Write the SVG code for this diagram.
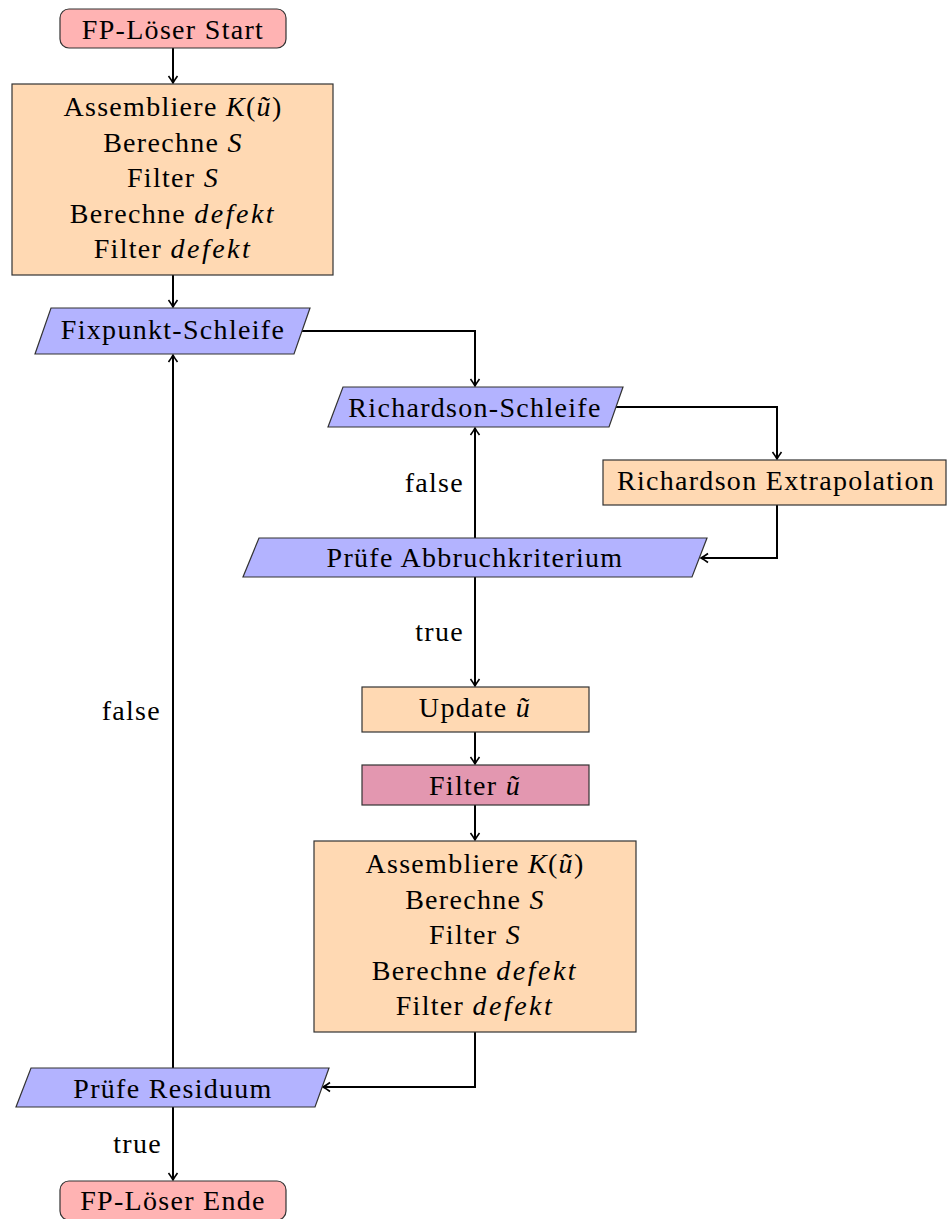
<svg xmlns="http://www.w3.org/2000/svg" width="948" height="1219" viewBox="0 0 948 1219">
<style>
text{font-family:"Liberation Serif","Times New Roman",serif;font-size:28px;fill:#000;text-anchor:middle;letter-spacing:1.3px}
.m{font-style:italic}
.sp{letter-spacing:2.5px}
.lbl{text-anchor:end}
.term{fill:#FFB3B3;stroke:#333;stroke-width:1.2}
.proc{fill:#FFD9B3;stroke:#333;stroke-width:1.2}
.io{fill:#B3B3FF;stroke:#333;stroke-width:1.2}
.filt{fill:#E397B0;stroke:#333;stroke-width:1.2}
.c{fill:none;stroke:#000;stroke-width:2}
</style>
<defs>
<marker id="ah" markerWidth="12" markerHeight="12" refX="10" refY="6" orient="auto" markerUnits="userSpaceOnUse">
<path d="M3,1.5 Q7,4.5 10,6 Q7,7.5 3,10.5" fill="none" stroke="#000" stroke-width="1.6"/>
</marker>
</defs>
<g id="connectors">
<path class="c" d="M173,48 V83" marker-end="url(#ah)"/>
<path class="c" d="M173,275 V307" marker-end="url(#ah)"/>
<path class="c" d="M302,331 H475 V386" marker-end="url(#ah)"/>
<path class="c" d="M616,407 H777 V459" marker-end="url(#ah)"/>
<path class="c" d="M777,505 V558 H701" marker-end="url(#ah)"/>
<path class="c" d="M475,538 V428" marker-end="url(#ah)"/>
<path class="c" d="M475,577 V686" marker-end="url(#ah)"/>
<path class="c" d="M475,732 V764" marker-end="url(#ah)"/>
<path class="c" d="M475,805 V840" marker-end="url(#ah)"/>
<path class="c" d="M475,1032 V1087 H323" marker-end="url(#ah)"/>
<path class="c" d="M173,1068 V355" marker-end="url(#ah)"/>
<path class="c" d="M173,1107 V1180" marker-end="url(#ah)"/>
<text class="lbl" x="464" y="492">false</text>
<text class="lbl" x="464" y="641">true</text>
<text class="lbl" x="161" y="720">false</text>
<text class="lbl" x="162" y="1153">true</text>
</g>
<g id="start">
<rect class="term" x="60" y="9" width="226" height="39" rx="9"/>
<text x="173" y="39">FP-Löser Start</text>
</g>
<g id="assemble1">
<rect class="proc" x="12" y="84" width="321" height="191"/>
<text x="173" y="116">Assembliere <tspan class="m">K</tspan>(<tspan class="m">ũ</tspan>)</text>
<text x="173" y="151.5">Berechne <tspan class="m">S</tspan></text>
<text x="173" y="187">Filter <tspan class="m">S</tspan></text>
<text x="173" y="222.5">Berechne <tspan class="m sp">defekt</tspan></text>
<text x="173" y="258">Filter <tspan class="m sp">defekt</tspan></text>
</g>
<g id="fixpunkt">
<polygon class="io" points="51,308 310,308 294,354 35,354"/>
<text x="173" y="339">Fixpunkt-Schleife</text>
</g>
<g id="richardson-loop">
<polygon class="io" points="343,387 623,387 609,427 328,427"/>
<text x="475" y="417">Richardson-Schleife</text>
</g>
<g id="richardson-extra">
<rect class="proc" x="603" y="460" width="343" height="45"/>
<text x="776" y="490">Richardson Extrapolation</text>
</g>
<g id="abbruch">
<polygon class="io" points="259,538 707,538 692,577 243,577"/>
<text x="475" y="567">Prüfe Abbruchkriterium</text>
</g>
<g id="update">
<rect class="proc" x="362" y="687" width="227" height="45"/>
<text x="475" y="717">Update <tspan class="m">ũ</tspan></text>
</g>
<g id="filter-u">
<rect class="filt" x="362" y="765" width="227" height="40"/>
<text x="475" y="795">Filter <tspan class="m">ũ</tspan></text>
</g>
<g id="assemble2">
<rect class="proc" x="314" y="841" width="322" height="191"/>
<text x="475" y="873">Assembliere <tspan class="m">K</tspan>(<tspan class="m">ũ</tspan>)</text>
<text x="475" y="908.5">Berechne <tspan class="m">S</tspan></text>
<text x="475" y="944">Filter <tspan class="m">S</tspan></text>
<text x="475" y="979.5">Berechne <tspan class="m sp">defekt</tspan></text>
<text x="475" y="1015">Filter <tspan class="m sp">defekt</tspan></text>
</g>
<g id="residuum">
<polygon class="io" points="31,1068 329,1068 315,1107 16,1107"/>
<text x="173" y="1098">Prüfe Residuum</text>
</g>
<g id="end">
<rect class="term" x="60" y="1181" width="226" height="39" rx="9"/>
<text x="173" y="1210">FP-Löser Ende</text>
</g>
</svg>
